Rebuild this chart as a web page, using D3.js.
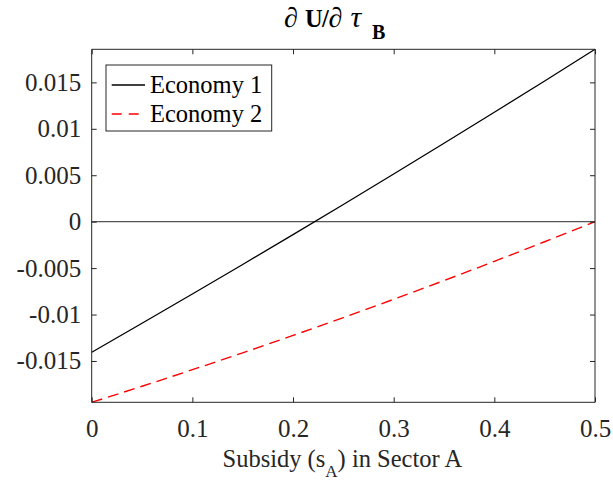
<!DOCTYPE html>
<html><head><meta charset="utf-8">
<script src="https://cdn.jsdelivr.net/npm/d3@7/dist/d3.min.js"></script>
<style>body{margin:0;background:#fff}</style>
</head><body>
<script>
const sValues = [0, 0.05, 0.1, 0.15, 0.2, 0.25, 0.3, 0.35, 0.4, 0.45, 0.5];
const economy1 = [-0.01406, -0.01094, -0.00779, -0.00461, -0.00140, 0.00185, 0.00513, 0.00844, 0.01178, 0.01515, 0.01856];
const economy2 = [-0.01945, -0.01772, -0.01594, -0.01412, -0.01225, -0.01033, -0.00836, -0.00634, -0.00427, -0.00216, 0];
const xTicks = [0, 0.1, 0.2, 0.3, 0.4, 0.5];
const yTicks = [-0.015, -0.01, -0.005, 0, 0.005, 0.01, 0.015];
const yTickLabels = ["-0.015", "-0.01", "-0.005", "0", "0.005", "0.01", "0.015"];
const xTickLabels = ["0", "0.1", "0.2", "0.3", "0.4", "0.5"];
const seriesNames = ["Economy 1", "Economy 2"];

const W = 613, H = 483;
const L = 91.7, R = 595, T = 49.3, B = 402.3;
const font = "'Liberation Serif', 'Times New Roman', serif";
const axCol = "#262626";

const svg = d3.select("body").append("svg").attr("width", W).attr("height", H);
const x = d3.scaleLinear().domain([0, 0.5]).range([L, R]);
const y = d3.scaleLinear().domain([-0.01945, 0.01856]).range([B, T]);

// zero line
svg.append("line").attr("x1", L).attr("x2", R).attr("y1", y(0)).attr("y2", y(0))
  .attr("stroke", "#555").attr("stroke-width", 1.2);

const line = d3.line().x((d, i) => x(sValues[i])).y(d => y(d)).curve(d3.curveMonotoneX);
const g = svg.append("g");
g.append("path").datum(economy2).attr("d", line).attr("fill", "none")
  .attr("stroke", "#ff0000").attr("stroke-width", 1.4).attr("stroke-dasharray", "11,6");
g.append("path").datum(economy1).attr("d", line).attr("fill", "none")
  .attr("stroke", "#000").attr("stroke-width", 1.3);

// axes
const fs = 25;
const axB = svg.append("g").attr("transform", `translate(0,${B})`)
  .call(d3.axisBottom(x).tickValues(xTicks).tickSize(-5).tickPadding(17).tickFormat((d, i) => xTickLabels[i]));
const axT = svg.append("g").attr("transform", `translate(0,${T})`)
  .call(d3.axisTop(x).tickValues(xTicks).tickSize(-5).tickFormat(""));
const axL = svg.append("g").attr("transform", `translate(${L},0)`)
  .call(d3.axisLeft(y).tickValues(yTicks).tickSize(-5).tickPadding(10.5).tickFormat((d, i) => yTickLabels[i]));
const axR = svg.append("g").attr("transform", `translate(${R},0)`)
  .call(d3.axisRight(y).tickValues(yTicks).tickSize(-5).tickFormat(""));
[axB, axT, axL, axR].forEach(a => {
  a.select(".domain").attr("stroke", axCol).attr("stroke-width", 1);
  a.selectAll(".tick line").attr("stroke", axCol);
  a.selectAll("text").attr("fill", axCol).style("font-family", font).style("font-size", fs + "px");
});
axB.select(".domain").attr("d", `M${L},0H${R}`);
axT.select(".domain").attr("d", `M${L},0H${R}`);
axL.select(".domain").attr("d", `M0,${T}V${B}`);
axR.select(".domain").attr("d", `M0,${T}V${B}`);

// title
const title = svg.append("text").attr("y", 26.5)
  .style("font-family", font).style("font-size", "24.5px").attr("fill", "#000");
title.append("tspan").attr("x", 284).attr("font-size", "28px").text("∂");
title.append("tspan").attr("x", 305).attr("font-weight", "bold").text("U");
title.append("tspan").attr("x", 322).attr("font-weight", "bold").text("/");
title.append("tspan").attr("x", 328.5).attr("font-size", "28px").text("∂");
title.append("tspan").attr("x", 350.5).attr("font-size", "30px").attr("font-style", "italic").text("τ");
title.append("tspan").attr("x", 372).attr("font-weight", "bold").attr("font-size", "20px").attr("dy", 12.5).text("B");

// x label
const xl = svg.append("text").attr("x", (L + R) / 2 - 1).attr("y", 466.5).attr("text-anchor", "middle")
  .style("font-family", font).style("font-size", "24.5px").attr("fill", axCol);
xl.append("tspan").text("Subsidy (s");
xl.append("tspan").attr("font-size", "17px").attr("dy", 10).text("A");
xl.append("tspan").attr("dy", -10).text(") in Sector A");

// legend
const lg = svg.append("g");
lg.append("rect").attr("x", 106).attr("y", 65).attr("width", 165.7).attr("height", 66)
  .attr("fill", "#fff").attr("stroke", axCol).attr("stroke-width", 1);
const rowsY = [85, 114];
const cols = ["#000", "#ff0000"];
const dashes = [null, "10,7"];
seriesNames.forEach((n, i) => {
  lg.append("line").attr("x1", 111.7).attr("x2", 145).attr("y1", rowsY[i]).attr("y2", rowsY[i])
    .attr("stroke", cols[i]).attr("stroke-width", 1.3).attr("stroke-dasharray", dashes[i]);
  lg.append("text").attr("x", 150).attr("y", rowsY[i] + 8).text(n)
    .style("font-family", font).style("font-size", "24.5px").attr("fill", "#000");
});
</script>
</body></html>
